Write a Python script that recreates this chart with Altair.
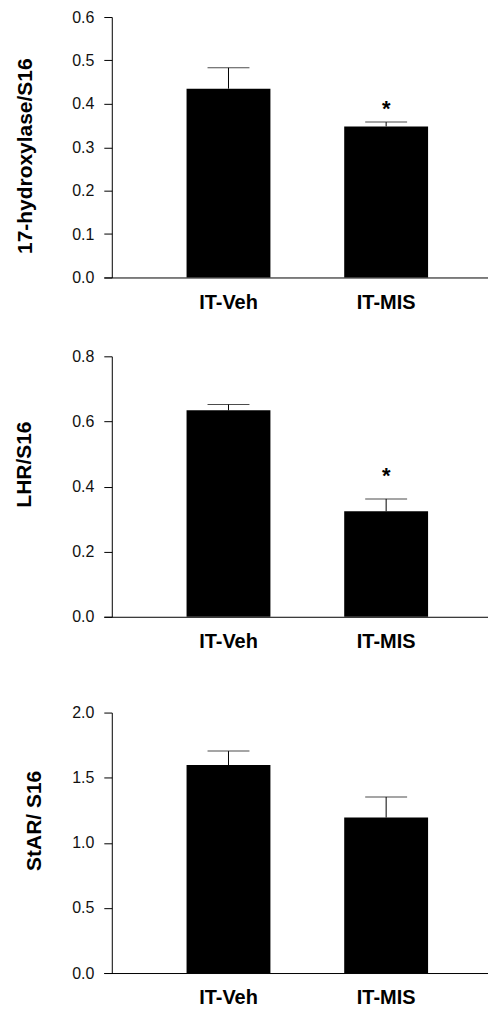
import altair as alt
import pandas as pd

groups = ["IT-Veh", "IT-MIS"]

hyd_mean = [0.435, 0.348]
hyd_upper = [0.483, 0.358]
hyd_sig = ["", "*"]

lhr_mean = [0.634, 0.324]
lhr_upper = [0.652, 0.362]
lhr_sig = ["", "*"]

star_mean = [1.597, 1.194]
star_upper = [1.704, 1.352]
star_sig = ["", ""]

hyd_ticks = [0.0, 0.1, 0.2, 0.3, 0.4, 0.5, 0.6]
lhr_ticks = [0.0, 0.2, 0.4, 0.6, 0.8]
star_ticks = [0.0, 0.5, 1.0, 1.5, 2.0]

FONT = "Liberation Sans"


def panel(title, means, uppers, sigs, ticks, title_x, title_y, star_dy):
    df = pd.DataFrame({"group": groups, "mean": means, "upper": uppers, "sig": sigs})
    xscale = alt.Scale(paddingInner=0.468, paddingOuter=0.4525, align=0.58)
    xaxis = alt.Axis(
        title=None, labelAngle=0, labelFont=FONT, labelFontSize=20,
        labelFontWeight="bold", labelColor="black", ticks=False, tickSize=0,
        labelPadding=15, domainColor="black", domainWidth=1,
    )
    yscale = alt.Scale(domain=[ticks[0], ticks[-1]], nice=False, zero=True)
    yaxis = alt.Axis(
        values=ticks, format=".1f", title=title, grid=False, offset=-8,
        labelFont=FONT, labelFontSize=16, labelColor="#111",
        labelPadding=10, tickSize=8, tickColor="black", domainColor="black",
        titleFont=FONT, titleFontSize=21, titleFontWeight="bold", titleColor="black",
        titleAngle=270, titleAlign="center", titleBaseline="middle",
        titleX=title_x, titleY=title_y,
    )
    X = alt.X("group:N", sort=groups, scale=xscale, axis=xaxis)
    base = alt.Chart(df)
    bars = base.mark_bar(color="black").encode(
        x=X, y=alt.Y("mean:Q", scale=yscale, axis=yaxis)
    )
    rule = base.mark_rule(color="black", strokeWidth=1).encode(
        x=X, y=alt.Y("mean:Q", scale=yscale, axis=yaxis), y2="upper:Q"
    )
    cap = base.mark_tick(color="black", thickness=1, size=42, orient="horizontal").encode(
        x=X, y=alt.Y("upper:Q", scale=yscale, axis=yaxis)
    )
    star = base.mark_text(
        font=FONT, fontSize=22, fontWeight="bold", color="black",
        baseline="middle", dy=star_dy,
    ).encode(x=X, y=alt.Y("upper:Q", scale=yscale, axis=yaxis), text="sig:N")
    return alt.layer(bars, rule, cap, star).properties(width=385, height=261)


p1 = panel("17-hydroxylase/S16", hyd_mean, hyd_upper, hyd_sig, hyd_ticks, -86, 139, -13)
p2 = panel("LHR/S16", lhr_mean, lhr_upper, lhr_sig, lhr_ticks, -87, 108, -23)
p3 = panel("StAR/ S16", star_mean, star_upper, star_sig, star_ticks, -77, 108, -13)

inner = alt.vconcat(p1, p2, spacing=36)
chart = (
    alt.vconcat(inner, p3, spacing=53)
    .properties(padding={"left": 6, "top": 0, "right": 0, "bottom": 0})
    .configure_view(stroke=None)
)

chart.save("out.html", embed_options={"renderer": "svg", "actions": False})
